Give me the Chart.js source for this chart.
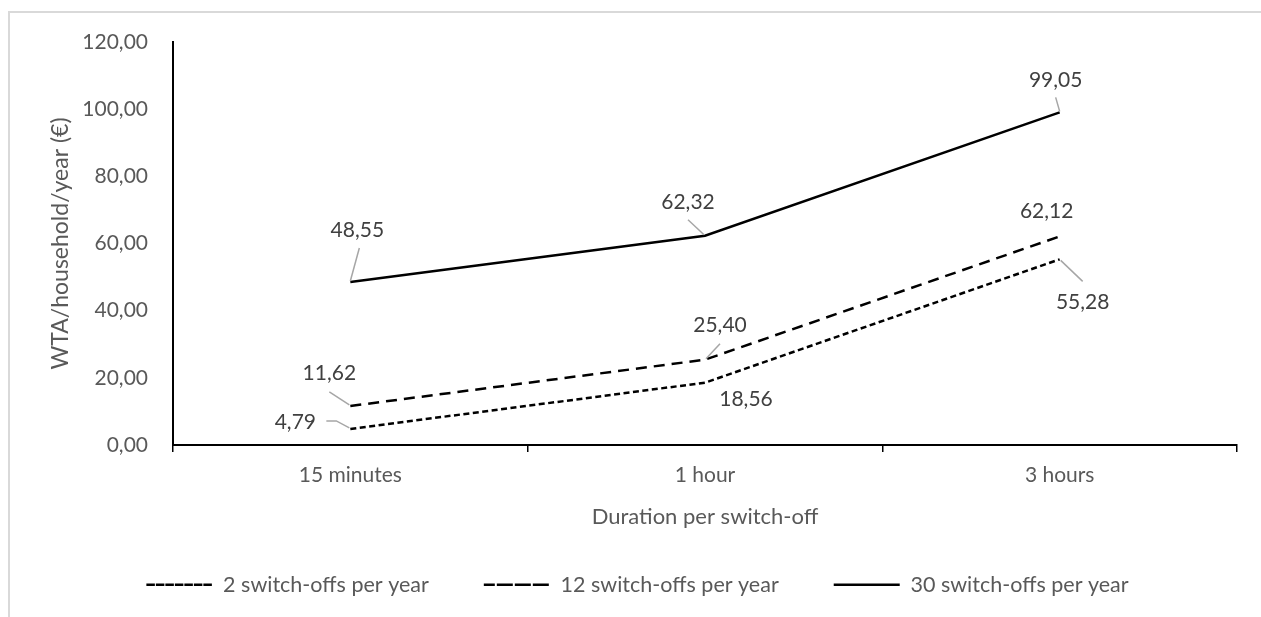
<!DOCTYPE html>
<html>
<head>
<meta charset="utf-8">
<script src="https://cdn.jsdelivr.net/npm/chart.js@4.4.1/dist/chart.umd.min.js"></script>
<style>
  html, body { margin: 0; padding: 0; background: #ffffff; }
  #wrap { width: 1261px; height: 617px; }
</style>
</head>
<body>
<div id="wrap"><canvas id="c" width="1261" height="617"></canvas></div>
<script>
// ---- data ----
const categories = ['15 minutes', '1 hour', '3 hours'];
const seriesNames = ['2 switch-offs per year', '12 switch-offs per year', '30 switch-offs per year'];
const twoPerYear = [4.79, 18.56, 55.28];
const twelvePerYear = [11.62, 25.40, 62.12];
const thirtyPerYear = [48.55, 62.32, 99.05];
const yTicks = [0, 20, 40, 60, 80, 100, 120];
const yTitle = 'WTA/household/year (€)';
const xTitle = 'Duration per switch-off';

// ---- label placement (style only: pixel offsets from each point) ----
const labelPlacement = [
  [ {dx: -55, dy: -7, leader: [[-24, -8], [-14, -8], [-1, -1]]},
    {dx: 41, dy: 17, leader: null},
    {dx: 23, dy: 43, leader: [[23, 22], [1, 1]]} ],
  [ {dx: -21, dy: -33, leader: [[-21, -14], [-1, -1]]},
    {dx: 15, dy: -34, leader: [[15, -16], [1, -1]]},
    {dx: -13, dy: -25, leader: null} ],
  [ {dx: 7, dy: -52, leader: [[9, -34], [0, -1]]},
    {dx: -17, dy: -33, leader: [[-17, -16], [-1, -1]]},
    {dx: -4, dy: -32, leader: [[-4, -15], [0, -1]]} ]
];

const FONT = 'Lato, "Open Sans", sans-serif';
const fmt = v => v.toFixed(2).replace('.', ',');

const frame = {
  id: 'frame',
  afterLayout(chart) {
    // centre the legend on the full frame rather than the plot
    if (chart.legend) { chart.legend.left += 19; chart.legend.right += 19; }
  },
  beforeDraw(chart) {
    const ctx = chart.ctx;
    ctx.save();
    ctx.fillStyle = '#ffffff';
    ctx.fillRect(0, 0, chart.width, chart.height);
    ctx.strokeStyle = '#d9d9d9';
    ctx.lineWidth = 2;
    ctx.strokeRect(9, 12, chart.width + 20, chart.height + 20);
    ctx.restore();
  }
};

const dataLabels = {
  id: 'dataLabels',
  afterDatasetsDraw(chart) {
    const ctx = chart.ctx;
    ctx.save();
    chart.data.datasets.forEach((ds, i) => {
      const meta = chart.getDatasetMeta(i);
      meta.data.forEach((pt, j) => {
        const p = labelPlacement[i][j];
        if (p.leader) {
          ctx.beginPath();
          ctx.strokeStyle = '#a6a6a6';
          ctx.lineWidth = 1.5;
          ctx.setLineDash([]);
          p.leader.forEach((q, k) => {
            const x = pt.x + q[0], y = pt.y + q[1];
            if (k === 0) ctx.moveTo(x, y); else ctx.lineTo(x, y);
          });
          ctx.stroke();
        }
        ctx.fillStyle = '#404040';
        ctx.font = '21px ' + FONT;
        ctx.textAlign = 'center';
        ctx.textBaseline = 'middle';
        ctx.fillText(fmt(ds.data[j]), pt.x + p.dx, pt.y + p.dy);
      });
    });
    ctx.restore();
  }
};

const mk = (label, data, dash) => ({
  label, data,
  borderColor: '#000000',
  backgroundColor: 'rgba(0,0,0,0)',
  borderWidth: 2.5,
  borderDash: dash,
  pointRadius: 0,
  pointHoverRadius: 0,
  tension: 0,
  fill: false
});

new Chart(document.getElementById('c'), {
  type: 'line',
  data: {
    labels: categories,
    datasets: [
      mk(seriesNames[0], twoPerYear, [6, 3.5]),
      mk(seriesNames[1], twelvePerYear, [11, 7]),
      mk(seriesNames[2], thirtyPerYear, [])
    ]
  },
  options: {
    responsive: false,
    animation: false,
    layout: { padding: { left: 0, right: 24, top: 42, bottom: 11.5 } },
    plugins: {
      tooltip: { enabled: false },
      legend: {
        position: 'bottom',
        labels: {
          boxWidth: 66,
          boxHeight: 0,
          padding: 55,
          color: '#595959',
          font: { family: FONT, size: 21.5 }
        }
      }
    },
    scales: {
      x: {
        offset: true,
        grid: { display: true, offset: true, drawOnChartArea: false, drawTicks: true, tickLength: 7, color: '#000000', lineWidth: 1.5 },
        border: { display: true, color: '#000000', width: 2 },
        ticks: { color: '#595959', font: { family: FONT, size: 21 }, padding: 11, maxRotation: 0 },
        title: { display: true, text: xTitle, color: '#595959', font: { family: FONT, size: 22 }, padding: { top: 0, bottom: -11 } },
        afterFit(scale) { scale.height = 74; }
      },
      y: {
        min: 0, max: 120,
        afterBuildTicks(scale) { scale.ticks = yTicks.map(v => ({ value: v })); },
        grid: { display: false, drawTicks: false },
        border: { display: true, color: '#000000', width: 2 },
        ticks: { color: '#595959', font: { family: FONT, size: 21 }, padding: 25, callback: v => fmt(v) },
        title: { display: true, text: yTitle, color: '#595959', font: { family: FONT, size: 23 }, padding: { top: 47, bottom: 0 } },
        afterFit(scale) { scale.width = 173; }
      }
    }
  },
  plugins: [frame, dataLabels]
});
</script>
</body>
</html>
